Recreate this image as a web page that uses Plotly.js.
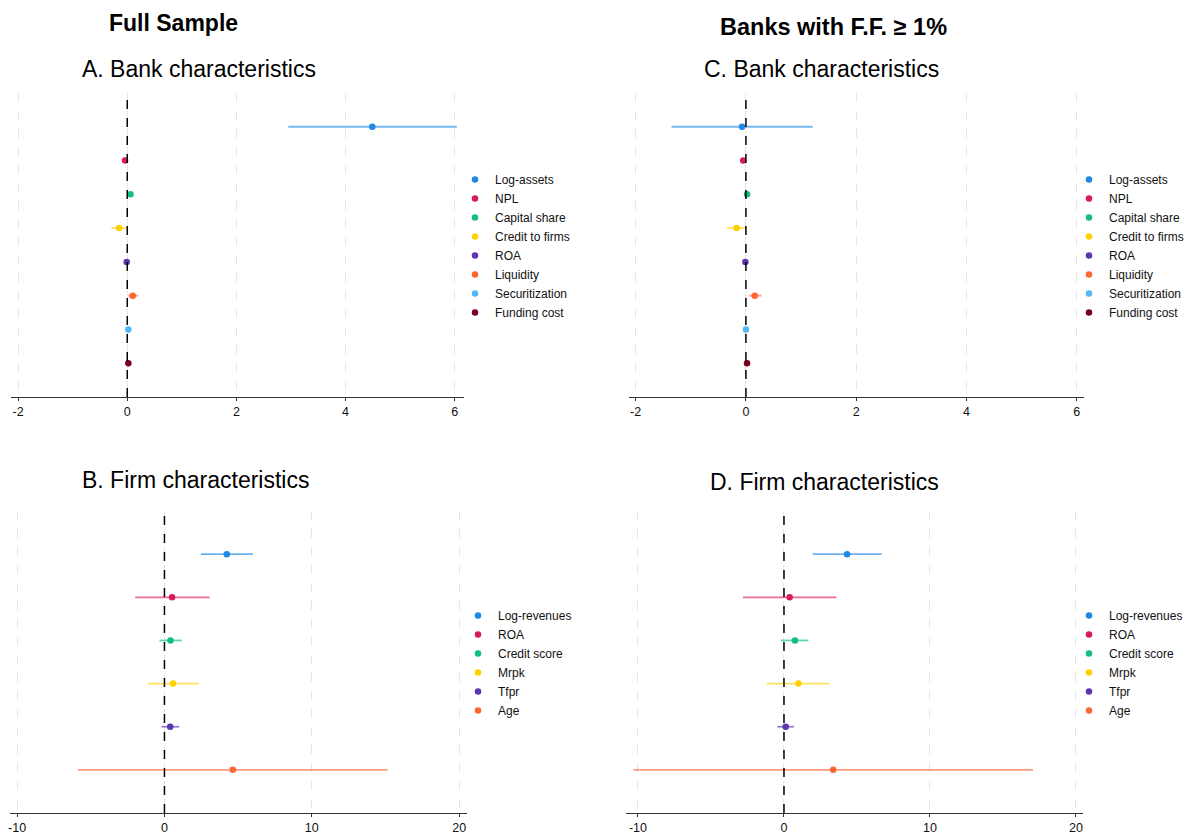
<!DOCTYPE html>
<html>
<head>
<meta charset="utf-8">
<script src="https://cdn.plot.ly/plotly-3.0.1.min.js"></script>
<style>html,body{margin:0;padding:0;background:#fff;}#chart{width:1185px;height:834px;}</style>
</head>
<body>
<div id="chart"></div>
<script>
// ---- data ----
const bankVars = ['Log-assets','NPL','Capital share','Credit to firms','ROA','Liquidity','Securitization','Funding cost'];
const bankColors = ['#1E88E5','#D81B60','#13BD85','#FFD000','#5E35B1','#FF6633','#4FB8F5','#7A0020'];
// Panel A: full sample, bank characteristics
const A_coef = [4.49, -0.04, 0.06, -0.15, -0.01, 0.10, 0.02, 0.02];
const A_lo   = [2.95, -0.06, 0.04, -0.29, -0.03, 0.02, 0.00, 0.00];
const A_hi   = [6.04, -0.02, 0.08,  0.01,  0.01, 0.20, 0.04, 0.04];
// Panel C: banks with F.F. >= 1%, bank characteristics
const C_coef = [-0.07, -0.05, 0.02, -0.17, -0.01, 0.16,  0.00, 0.02];
const C_lo   = [-1.35, -0.07, 0.00, -0.34, -0.03, 0.06, -0.02, 0.00];
const C_hi   = [ 1.21, -0.03, 0.04,  0.01,  0.01, 0.28,  0.02, 0.04];

const firmVars = ['Log-revenues','ROA','Credit score','Mrpk','Tfpr','Age'];
const firmColors = ['#1E88E5','#D81B60','#13BD85','#FFD000','#5E35B1','#FF6633'];
// Panel B: full sample, firm characteristics
const B_coef = [4.23,  0.52,  0.41,  0.59,  0.39,  4.64];
const B_lo   = [2.47, -1.99, -0.34, -1.11, -0.20, -5.86];
const B_hi   = [6.00,  3.06,  1.18,  2.33,  1.00, 15.14];
// Panel D: banks with F.F. >= 1%, firm characteristics
const D_coef = [4.32,  0.39,  0.75,  0.99,  0.12,   3.37];
const D_lo   = [1.97, -2.81, -0.21, -1.19, -0.46, -10.31];
const D_hi   = [6.69,  3.59,  1.67,  3.10,  0.68,  17.05];

const bankTicks = [-2, 0, 2, 4, 6];
const firmTicks = [-10, 0, 10, 20];

// ---- helpers ----
function rgba(hex, a){
  const n = parseInt(hex.slice(1),16);
  return 'rgba(' + ((n>>16)&255) + ',' + ((n>>8)&255) + ',' + (n&255) + ',' + a + ')';
}
const FONT = 'Liberation Sans, Arial, Helvetica, sans-serif';
const W = 1185, H = 834;
const px = v => v / W;
const py = v => 1 - v / H;

function makeTraces(vars, colors, coef, lo, hi, ax, legendId, thick, alpha){
  return vars.map((name, i) => ({
    type: 'scatter', mode: 'markers',
    x: [coef[i]], y: [name], name: name,
    xaxis: 'x' + ax, yaxis: 'y' + ax, legend: legendId,
    marker: {color: colors[i], size: 6.5},
    error_x: {type: 'data', symmetric: false,
              array: [hi[i] - coef[i]], arrayminus: [coef[i] - lo[i]],
              color: rgba(colors[i], alpha), thickness: thick, width: 0},
    hoverinfo: 'x+name'
  }));
}

const data = [].concat(
  makeTraces(bankVars, bankColors, A_coef, A_lo, A_hi, '', 'legend', 2, 0.6),
  makeTraces(firmVars, firmColors, B_coef, B_lo, B_hi, '2', 'legend2', 1.8, 0.65),
  makeTraces(bankVars, bankColors, C_coef, C_lo, C_hi, '3', 'legend3', 2, 0.6),
  makeTraces(firmVars, firmColors, D_coef, D_lo, D_hi, '4', 'legend4', 1.8, 0.65)
);

function xAxis(domain, range, ticks, anchor){
  return {
    domain: domain, range: range, anchor: anchor,
    tickmode: 'array', tickvals: ticks, ticktext: ticks.map(String),
    ticks: 'outside', ticklen: 3, tickwidth: 1, tickcolor: '#333',
    showline: true, linecolor: '#333', linewidth: 1,
    showgrid: true, gridcolor: '#e6e6e6', gridwidth: 1, griddash: 'dash',
    zeroline: false,
    tickfont: {family: FONT, size: 12.5, color: '#111'},
    fixedrange: true
  };
}
function yAxis(domain, cats, anchor){
  return {
    domain: domain, anchor: anchor, type: 'category',
    categoryorder: 'array', categoryarray: cats,
    range: [cats.length, -1],
    showticklabels: false, ticks: '', showgrid: false, zeroline: false, showline: false,
    fixedrange: true
  };
}

const topY = [py(397), py(93)];
const botY = [py(813), py(511)];

function zeroLine(ax){
  return {type: 'line', xref: 'x' + ax, yref: 'y' + ax + ' domain',
          x0: 0, x1: 0, y0: 0, y1: 1,
          line: {color: '#000', width: 1.5, dash: 'dash'}};
}
function legendAt(xPix, yPix){
  return {x: px(xPix), y: py(yPix), xanchor: 'left', yanchor: 'middle',
          xref: 'paper', yref: 'paper',
          font: {family: FONT, size: 12, color: '#111'},
          bgcolor: 'rgba(0,0,0,0)', borderwidth: 0, tracegroupgap: 0,
          itemclick: false, itemdoubleclick: false};
}
function ann(text, xPix, yPix, size){
  return {text: text, x: px(xPix), y: py(yPix), xref: 'paper', yref: 'paper',
          xanchor: 'center', yanchor: 'middle', showarrow: false,
          font: {family: FONT, size: size, color: '#000'}};
}

const layout = {
  width: W, height: H,
  margin: {l: 0, r: 0, t: 0, b: 0, autoexpand: false},
  paper_bgcolor: '#fff', plot_bgcolor: '#fff',
  showlegend: true,
  xaxis:  xAxis([px(11),  px(464)],  [-2.13, 6.17],  bankTicks, 'y'),
  yaxis:  yAxis(topY, bankVars, 'x'),
  xaxis2: xAxis([px(10),  px(467)],  [-10.48, 20.53], firmTicks, 'y2'),
  yaxis2: yAxis(botY, firmVars, 'x2'),
  xaxis3: xAxis([px(629), px(1084)], [-2.12, 6.13],  bankTicks, 'y3'),
  yaxis3: yAxis(topY, bankVars, 'x3'),
  xaxis4: xAxis([px(626), px(1083)], [-10.82, 20.48], firmTicks, 'y4'),
  yaxis4: yAxis(botY, firmVars, 'x4'),
  legend:  legendAt(455, 246),
  legend2: legendAt(458, 663),
  legend3: legendAt(1069, 246),
  legend4: legendAt(1069, 663),
  shapes: [zeroLine(''), zeroLine('2'), zeroLine('3'), zeroLine('4')],
  annotations: [
    ann('<b>Full Sample</b>', 173, 22.5, 23),
    ann('<b>Banks with F.F. \u2265 1%</b>', 833.5, 27, 23.5),
    ann('A. Bank characteristics', 198.5, 69, 23),
    ann('C. Bank characteristics', 821, 69, 23),
    ann('B. Firm characteristics', 195.5, 480, 23),
    ann('D. Firm characteristics', 824.5, 482, 23)
  ]
};

Plotly.newPlot('chart', data, layout, {displayModeBar: false, staticPlot: true});
</script>
</body>
</html>
